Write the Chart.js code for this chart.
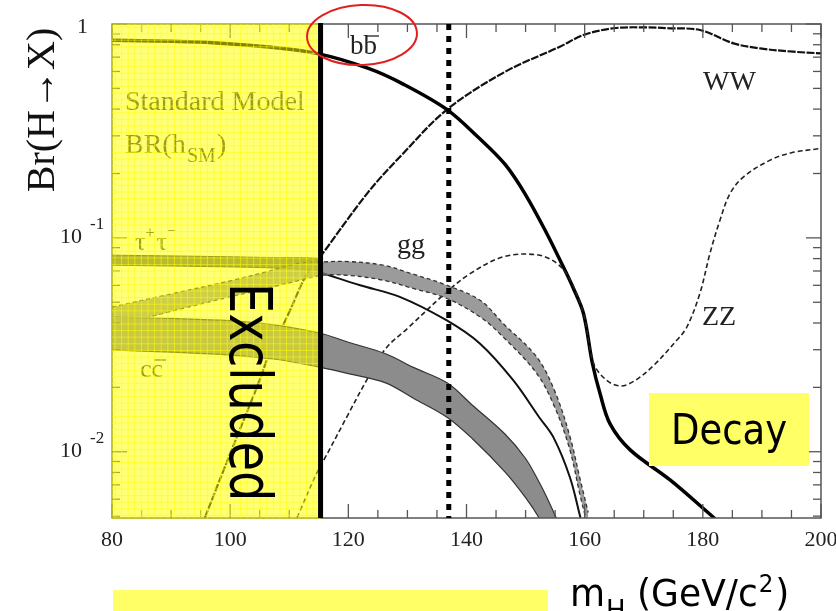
<!DOCTYPE html>
<html>
<head>
<meta charset="utf-8">
<script src="https://cdn.jsdelivr.net/npm/chart.js@4.4.1/dist/chart.umd.min.js"></script>
<style>
  html, body { margin: 0; padding: 0; background: #fff; }
</style>
</head>
<body>
<canvas id="brChart" width="836" height="611"></canvas>
<script>
// values (Higgs mass in GeV, branching ratio)
const bbMass = [80, 90, 97, 106, 115, 123.4, 129.2, 136.7, 141.9, 146.5, 150, 153.5, 156.4, 158.1, 159.8, 161.3, 162.6, 164.3, 167.7, 174.4, 181.2, 183];
const bbBR = [0.84, 0.83, 0.818, 0.783, 0.725, 0.62, 0.525, 0.398, 0.297, 0.221, 0.159, 0.106, 0.073, 0.058, 0.0443, 0.026, 0.0187, 0.0135, 0.0102, 0.0074, 0.0051, 0.0046];

const wwMass = [95.7, 100, 105.1, 106.2, 110, 113, 115.3, 123.4, 129.2, 136.7, 146.5, 155.8, 159.9, 164.9, 170, 174.4, 179.5, 185.2, 189.7, 195.3, 200];
const wwBR = [0.0049, 0.0098, 0.022, 0.0268, 0.045, 0.068, 0.082, 0.164, 0.247, 0.398, 0.597, 0.783, 0.89, 0.955, 0.965, 0.955, 0.937, 0.812, 0.769, 0.742, 0.729];

const zzMass = [111.3, 114.6, 116, 120, 123.1, 126.3, 130, 136.7, 140.6, 146.2, 151.9, 155.3, 157.5, 159.8, 161.5, 163.7, 166.1, 168.5, 171.6, 175.5, 177.3, 179.5, 181.2, 182.9, 184.6, 186.9, 191.4, 195, 200];
const zzBR = [0.0049, 0.0079, 0.0093, 0.015, 0.0216, 0.0303, 0.0377, 0.056, 0.068, 0.0815, 0.0834, 0.076, 0.064, 0.0443, 0.026, 0.0216, 0.0203, 0.0215, 0.0252, 0.033, 0.0383, 0.055, 0.0845, 0.121, 0.161, 0.193, 0.231, 0.25, 0.262];

const ggMass = [80, 90, 100, 106, 111.8, 115.8, 120, 125.9, 131, 136.6, 142.3, 146.2, 151.9, 155, 157.5, 159.2, 160.6];
const ggHigh = [0.0475, 0.0547, 0.063, 0.0693, 0.0762, 0.0772, 0.0775, 0.0745, 0.0676, 0.0601, 0.0511, 0.0398, 0.0277, 0.019, 0.0118, 0.0075, 0.0052];
const ggLow = [0.0383, 0.0453, 0.053, 0.0578, 0.0634, 0.0669, 0.0668, 0.0634, 0.058, 0.0522, 0.0427, 0.0344, 0.0232, 0.016, 0.0102, 0.0063, 0.0044];

const tauBandMass = [80, 95, 106, 114.6, 115.5];
const tauHigh = [0.083, 0.082, 0.081, 0.0804, 0.078];
const tauLow = [0.0745, 0.0735, 0.0725, 0.0706, 0.069];
const tauLineMass = [115.3, 117, 122, 128.7, 136.6, 142.3, 147.9, 152.3, 154.7, 157.5, 159.3];
const tauLineBR = [0.069, 0.0665, 0.06, 0.053, 0.0412, 0.032, 0.0216, 0.0145, 0.0117, 0.0076, 0.0049];

const ccMass = [80, 90, 100, 108, 115.3, 120, 126.3, 131, 136.7, 141, 146.5, 150, 152.3, 153.5, 155.2];
const ccHigh = [0.0426, 0.042, 0.041, 0.039, 0.0358, 0.0325, 0.0287, 0.0248, 0.021, 0.0165, 0.0121, 0.0093, 0.0072, 0.0062, 0.0049];
const ccMid = [0.0358, 0.035, 0.034, 0.0325, 0.0309, 0.028, 0.0243, 0.021, 0.0175, 0.0138, 0.0097, 0.0074, 0.0058, 0.0051, 0.0041];
const ccLow = [0.0299, 0.0292, 0.0283, 0.027, 0.0248, 0.0232, 0.021, 0.0178, 0.0145, 0.0115, 0.00805, 0.0061, 0.0049, 0.0042, 0.0034];

const xTicks = [80, 100, 120, 140, 160, 180, 200];
const excludedLimit = 115.3;
const dottedMass = 137;

const pts = (xs, ys) => xs.map((x, i) => ({ x: x, y: ys[i] }));

function line(ctx, x1, y1, x2, y2) {
  ctx.beginPath();
  ctx.moveTo(x1, y1);
  ctx.lineTo(x2, y2);
  ctx.stroke();
}

const decorations = {
  id: "decorations",
  afterDatasetsDraw(chart) {
    const { ctx, chartArea: a, scales: { x, y } } = chart;
    const xl = x.getPixelForValue(excludedLimit);
    ctx.save();
    ctx.textBaseline = "alphabetic";
    ctx.textAlign = "left";

    // texts that sit under the yellow overlay
    ctx.fillStyle = "#333";
    ctx.font = "28px 'Liberation Serif'";
    ctx.fillText("Standard Model", 125, 110);
    ctx.fillText("BR(h", 125, 153);
    ctx.font = "20px 'Liberation Serif'";
    ctx.fillText("SM", 187, 162);
    ctx.font = "28px 'Liberation Serif'";
    ctx.fillText(")", 217, 153);

    let tx = 135;
    ctx.font = "26px 'Liberation Serif'";
    ctx.fillText("τ", tx, 250);
    tx += ctx.measureText("τ").width;
    ctx.font = "16px 'Liberation Serif'";
    ctx.fillText("+", tx, 238);
    tx += ctx.measureText("+").width + 2;
    ctx.font = "26px 'Liberation Serif'";
    ctx.fillText("τ", tx, 250);
    tx += ctx.measureText("τ").width;
    ctx.font = "16px 'Liberation Serif'";
    ctx.fillText("−", tx, 236);

    ctx.font = "26px 'Liberation Serif'";
    ctx.fillText("cc", 140, 377);
    ctx.strokeStyle = "#333";
    ctx.lineWidth = 1.2;
    line(ctx, 154, 360, 166, 360);

    // frame and inward ticks
    ctx.strokeStyle = "#555";
    ctx.lineWidth = 1.5;
    ctx.strokeRect(a.left, a.top, a.right - a.left, a.bottom - a.top);
    ctx.lineWidth = 1.3;
    for (let m = 80; m <= 200; m += 5) {
      const px = x.getPixelForValue(m);
      const len = m % 20 === 0 ? 14 : 8;
      line(ctx, px, a.bottom, px, a.bottom - len);
      line(ctx, px, a.top, px, a.top + len);
    }
    for (let e = -3; e <= 0; e++) {
      for (let k = 1; k <= 9; k++) {
        const v = k * Math.pow(10, e);
        if (v < y.min * 0.999 || v > 1.0001) continue;
        const py = y.getPixelForValue(v);
        const len = k === 1 ? 15 : 8;
        line(ctx, a.left, py, a.left + len, py);
        line(ctx, a.right, py, a.right - len, py);
      }
    }

    // excluded region overlay
    ctx.fillStyle = "rgba(255,255,0,0.52)";
    ctx.fillRect(a.left - 1, a.top - 1, xl - a.left + 1, a.bottom - a.top + 2);
    ctx.strokeStyle = "rgba(255,255,0,0.55)";
    ctx.lineWidth = 1;
    for (let gx = a.left + 3; gx < xl; gx += 6.6) line(ctx, gx, a.top, gx, a.bottom);
    for (let gy = a.top + 3; gy < a.bottom; gy += 6.6) line(ctx, a.left, gy, xl, gy);

    // limit lines
    ctx.strokeStyle = "#000";
    ctx.lineWidth = 5;
    line(ctx, xl, a.top - 1, xl, a.bottom);
    const xd = x.getPixelForValue(dottedMass);
    ctx.setLineDash([6, 6]);
    line(ctx, xd, a.top, xd, a.bottom);
    ctx.setLineDash([]);

    // curve labels
    ctx.fillStyle = "#222";
    ctx.font = "27px 'Liberation Serif'";
    ctx.fillText("bb", 350, 54);
    ctx.strokeStyle = "#222";
    ctx.lineWidth = 1.3;
    line(ctx, 366, 36, 379, 36);
    ctx.font = "28px 'Liberation Serif'";
    ctx.fillText("gg", 397, 253);
    ctx.fillText("WW", 703, 90);
    ctx.fillText("ZZ", 702, 325);

    ctx.strokeStyle = "#e02020";
    ctx.lineWidth = 2;
    ctx.beginPath();
    ctx.ellipse(362, 35, 55, 30, -0.04, 0, Math.PI * 2);
    ctx.stroke();

    // "Excluded" written downwards
    ctx.save();
    ctx.fillStyle = "#000";
    ctx.translate(230, 283);
    ctx.rotate(Math.PI / 2);
    ctx.scale(1, 1.22);
    ctx.font = "48px 'DejaVu Sans'";
    ctx.fillText("Excluded", 0, 0);
    ctx.restore();

    // Decay box and bottom bar
    ctx.fillStyle = "#ffff66";
    ctx.fillRect(649, 393, 160, 73);
    ctx.fillRect(113, 590, 435, 21);
    ctx.save();
    ctx.fillStyle = "#000";
    ctx.translate(671, 444);
    ctx.scale(1, 1.15);
    ctx.font = "37px 'DejaVu Sans'";
    ctx.fillText("Decay", 0, 0);
    ctx.restore();

    // y tick labels
    ctx.fillStyle = "#222";
    ctx.textBaseline = "middle";
    ctx.textAlign = "right";
    ctx.font = "22px 'Liberation Serif'";
    ctx.fillText("1", 88, y.getPixelForValue(1) + 3);
    [[0.1, "-1"], [0.01, "-2"]].forEach(([v, ex]) => {
      const py = y.getPixelForValue(v);
      ctx.textAlign = "right";
      ctx.font = "22px 'Liberation Serif'";
      ctx.fillText("10", 82, py - 1);
      ctx.textAlign = "left";
      ctx.font = "17px 'Liberation Serif'";
      ctx.fillText(ex, 90, py - 13);
    });

    // axis titles
    ctx.textBaseline = "alphabetic";
    ctx.save();
    ctx.fillStyle = "#111";
    ctx.translate(54, 110);
    ctx.rotate(-Math.PI / 2);
    ctx.textAlign = "center";
    ctx.font = "40px 'Liberation Serif'";
    ctx.fillText("Br(H→X)", 0, 0);
    ctx.restore();

    ctx.save();
    ctx.fillStyle = "#000";
    ctx.textAlign = "left";
    ctx.translate(570, 606);
    ctx.scale(1, 1.05);
    let t = 0;
    ctx.font = "36px 'DejaVu Sans'";
    ctx.fillText("m", t, 0);
    t += ctx.measureText("m").width + 1;
    ctx.font = "26px 'DejaVu Sans'";
    ctx.fillText("H", t, 12);
    t += ctx.measureText("H").width;
    ctx.font = "36px 'DejaVu Sans'";
    ctx.fillText(" (GeV/c", t, 0);
    t += ctx.measureText(" (GeV/c").width + 1;
    ctx.font = "23px 'DejaVu Sans'";
    ctx.fillText("2", t, -13);
    t += ctx.measureText("2").width + 2;
    ctx.font = "36px 'DejaVu Sans'";
    ctx.fillText(")", t, 0);
    ctx.restore();

    ctx.restore();
  }
};

const base = { pointRadius: 0, fill: false, tension: 0.35 };

const ctx = document.getElementById("brChart").getContext("2d");
const chart = new Chart(ctx, {
  type: "line",
  data: {
    datasets: [
      { ...base, label: "cc high", data: pts(ccMass, ccHigh), borderColor: "#333", borderWidth: 1.2 },
      { ...base, label: "cc low", data: pts(ccMass, ccLow), borderColor: "#333", borderWidth: 1.2, fill: "-1", backgroundColor: "#8c8c8c" },
      { ...base, label: "cc", data: pts(ccMass, ccMid), borderColor: "#222", borderWidth: 1.5 },
      { ...base, label: "gg high", data: pts(ggMass, ggHigh), borderColor: "#333", borderWidth: 1.3, borderDash: [4, 3] },
      { ...base, label: "gg low", data: pts(ggMass, ggLow), borderColor: "#333", borderWidth: 1.3, borderDash: [4, 3], fill: "-1", backgroundColor: "rgba(130,130,130,0.8)" },
      { ...base, label: "tau high", data: pts(tauBandMass, tauHigh), borderColor: "#333", borderWidth: 1 },
      { ...base, label: "tau low", data: pts(tauBandMass, tauLow), borderColor: "#333", borderWidth: 1, fill: "-1", backgroundColor: "#6e6e6e" },
      { ...base, label: "tau", data: pts(tauLineMass, tauLineBR), borderColor: "#111", borderWidth: 2 },
      { ...base, label: "ZZ", data: pts(zzMass, zzBR), borderColor: "#222", borderWidth: 1.6, borderDash: [5, 3] },
      { ...base, label: "WW", data: pts(wwMass, wwBR), borderColor: "#111", borderWidth: 2.2, borderDash: [8, 1.5] },
      { ...base, label: "bb", data: pts(bbMass, bbBR), borderColor: "#000", borderWidth: 3.5 }
    ]
  },
  options: {
    responsive: false,
    animation: false,
    devicePixelRatio: 1,
    layout: { padding: { left: 0, top: 24, right: 15, bottom: 0 } },
    plugins: { legend: { display: false }, tooltip: { enabled: false } },
    scales: {
      x: {
        type: "linear",
        min: 80,
        max: 200,
        afterBuildTicks: (s) => { s.ticks = xTicks.map(v => ({ value: v })); },
        afterFit: (s) => { s.height = 93; s.paddingLeft = 0; s.paddingRight = 0; },
        grid: { display: false, drawTicks: false },
        border: { display: false },
        ticks: { padding: 9, color: "#222", font: { family: "Liberation Serif", size: 22 } }
      },
      y: {
        type: "logarithmic",
        min: 0.0049,
        max: 1,
        afterFit: (s) => { s.width = 112; },
        grid: { display: false, drawTicks: false },
        border: { display: false },
        ticks: { display: false }
      }
    }
  },
  plugins: [decorations]
});
</script>
</body>
</html>
